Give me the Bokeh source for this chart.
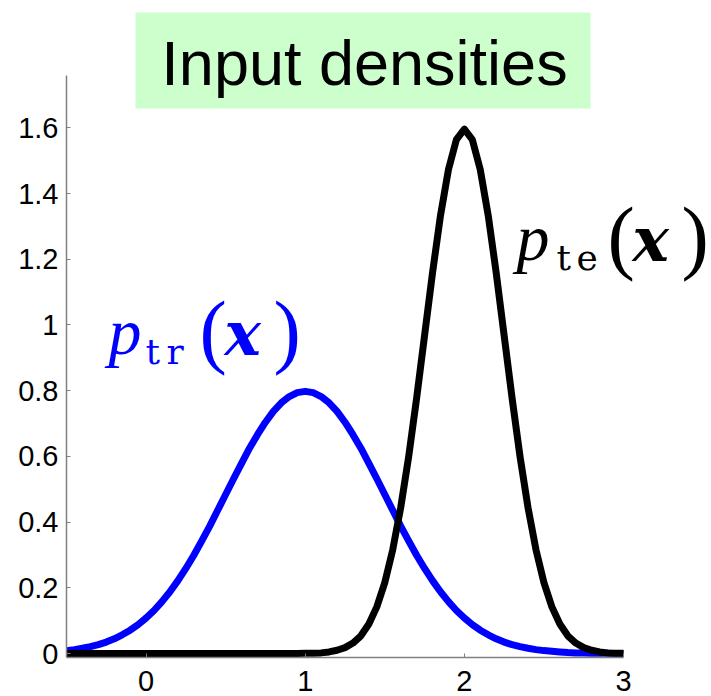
from bokeh.plotting import figure
from bokeh.models import Range1d, FixedTicker, Label
from bokeh.embed import file_html
from bokeh.resources import INLINE

# ---- data ----
x_vals = [-0.5, -0.45, -0.4, -0.35, -0.3, -0.25, -0.2, -0.15, -0.1, -0.05,
          0.0, 0.05, 0.1, 0.15, 0.2, 0.25, 0.3, 0.35, 0.4, 0.45,
          0.5, 0.55, 0.6, 0.65, 0.7, 0.75, 0.8, 0.85, 0.9, 0.95,
          1.0, 1.05, 1.1, 1.15, 1.2, 1.25, 1.3, 1.35, 1.4, 1.45,
          1.5, 1.55, 1.6, 1.65, 1.7, 1.75, 1.8, 1.85, 1.9, 1.95,
          2.0, 2.05, 2.1, 2.15, 2.2, 2.25, 2.3, 2.35, 2.4, 2.45,
          2.5, 2.55, 2.6, 2.65, 2.7, 2.75, 2.8, 2.85, 2.9, 2.95, 3.0]

p_tr = [0.009, 0.012, 0.016, 0.021, 0.027, 0.035, 0.045, 0.057, 0.071, 0.088,
        0.108, 0.131, 0.158, 0.188, 0.222, 0.259, 0.299, 0.343, 0.388, 0.436,
        0.484, 0.532, 0.579, 0.625, 0.666, 0.704, 0.737, 0.763, 0.782, 0.794,
        0.798, 0.794, 0.782, 0.763, 0.737, 0.704, 0.666, 0.625, 0.579, 0.532,
        0.484, 0.436, 0.388, 0.343, 0.299, 0.259, 0.222, 0.188, 0.158, 0.131,
        0.108, 0.088, 0.071, 0.057, 0.045, 0.035, 0.027, 0.021, 0.016, 0.012,
        0.009, 0.007, 0.005, 0.003, 0.002, 0.002, 0.001, 0.001, 0.001, 0.000, 0.000]

p_te = [0.0, 0.0, 0.0, 0.0, 0.0, 0.0, 0.0, 0.0, 0.0, 0.0,
        0.0, 0.0, 0.0, 0.0, 0.0, 0.0, 0.0, 0.0, 0.0, 0.0,
        0.0, 0.0, 0.0, 0.0, 0.0, 0.0, 0.0, 0.0, 0.0, 0.0,
        0.001, 0.001, 0.002, 0.005, 0.010, 0.018, 0.032, 0.054, 0.090, 0.142,
        0.216, 0.316, 0.444, 0.599, 0.777, 0.968, 1.159, 1.333, 1.473, 1.564,
        1.596, 1.564, 1.473, 1.333, 1.159, 0.968, 0.777, 0.599, 0.444, 0.316,
        0.216, 0.142, 0.090, 0.054, 0.032, 0.018, 0.010, 0.005, 0.002, 0.001, 0.001]

x_ticks = [0, 1, 2, 3]
y_ticks = [0, 0.2, 0.4, 0.6, 0.8, 1.0, 1.2, 1.4, 1.6]
y_tick_labels = {0: "0", 0.2: "0.2", 0.4: "0.4", 0.6: "0.6", 0.8: "0.8",
                 1.0: "1", 1.2: "1.2", 1.4: "1.4", 1.6: "1.6"}
title_text = "Input densities"

# ---- layout constants (pixels) ----
W, H = 711, 696
LEFT, BOTTOM = 66, 657          # frame left edge / bottom edge in page pixels
X0, Y0 = -0.5, -0.012           # data values at frame left / bottom
KX = 557 / 3.5                  # px per x unit
KY = 328.6                      # px per y unit
BASE_FIX = 0.365                # label baseline correction (fraction of font size)


def px_x(px):
    return X0 + (px - LEFT) / KX


def px_y(py):
    return Y0 + (BOTTOM - py) / KY


p = figure(width=W, height=H, output_backend="svg", toolbar_location=None,
           x_range=Range1d(X0, px_x(W)), y_range=Range1d(Y0, px_y(0)),
           min_border_left=LEFT, min_border_right=0, min_border_top=0,
           min_border_bottom=H - BOTTOM)
p.outline_line_color = None
p.grid.visible = False
p.background_fill_color = "white"
p.border_fill_color = "white"

for ax in (p.xaxis[0], p.yaxis[0]):
    ax.axis_line_color = "#808080"
    ax.axis_line_width = 1.5
    ax.major_tick_line_color = "#808080"
    ax.major_tick_in = 4
    ax.major_tick_out = 0
    ax.minor_tick_line_color = None
    ax.major_label_text_font = "Liberation Sans"
    ax.major_label_text_font_size = "29px"
    ax.major_label_text_color = "black"

p.xaxis[0].ticker = FixedTicker(ticks=x_ticks)
p.xaxis[0].bounds = (X0, 3)
p.xaxis[0].major_label_standoff = 13
p.yaxis[0].ticker = FixedTicker(ticks=y_ticks)
p.yaxis[0].major_label_overrides = y_tick_labels
p.yaxis[0].bounds = (Y0, px_y(75))
p.yaxis[0].major_label_standoff = 8

# curves (black drawn on top)
p.line(x_vals, p_tr, line_color="#0000FF", line_width=7, line_join="round")
p.line(x_vals, p_te, line_color="black", line_width=7, line_join="round")


def put(txt, left, base, size, font, style, color, align="left"):
    p.add_layout(Label(x=px_x(left), y=px_y(base - BASE_FIX * size), text=txt,
                       text_font=font, text_font_size=f"{size}px",
                       text_font_style=style, text_align=align,
                       text_baseline="alphabetic", text_color=color))


# title box
p.quad(left=px_x(135), right=px_x(590), top=px_y(12), bottom=px_y(108),
       fill_color="#CCFFCC", line_color=None)
put(title_text, 364, 85, 63, "Liberation Sans", "normal", "black", align="center")

SERIF = "Liberation Serif"
DSERIF = "DejaVu Serif"


def density_label(sub, dx, dy, sub_pos, color):
    put("p", 108 + dx, 355 + dy, 66, SERIF, "italic", color)
    for ch, sx in zip(sub, sub_pos):
        put(ch, sx, 364 + dy, 36, DSERIF, "normal", color)
    put("(", 199 + dx, 360 + dy, 82, SERIF, "normal", color)
    put("x", 224 + dx, 355 + dy, 61, DSERIF, "bold italic", color)
    put(")", 273 + dx, 360 + dy, 82, SERIF, "normal", color)


density_label("tr", 0, 0, [145, 166], "#0000FF")
density_label("te", 408, -94, [556, 576], "black")

open("out.html", "w").write(file_html(p, INLINE))
